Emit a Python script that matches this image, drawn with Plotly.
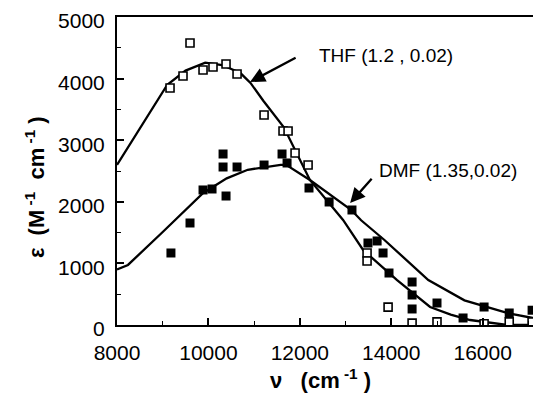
import plotly.graph_objects as go

# THF data (open squares)
thf_x = [9160, 9444, 9597, 9882, 10100, 10385, 10626, 11217, 11632, 11742, 11895, 12180,
         13470, 13470, 13930, 14455, 15000, 16030, 16580, 17080]
thf_y = [3847, 4042, 4578, 4140, 4188, 4237, 4075, 3409, 3149, 3149, 2792, 2597,
         1170, 1040, 290, 30, 50, 20, 50, 50]

# DMF data (filled squares)
dmf_x = [9180, 9597, 9882, 10079, 10320, 10320, 10385, 10626, 11217, 11610, 11720, 12200,
         12640, 13140, 13490, 13690, 13820, 13950, 14455, 14455, 14455, 15000, 15570,
         16030, 16580, 17080]
dmf_y = [1169, 1656, 2192, 2208, 2776, 2565, 2094, 2565, 2597, 2776, 2630, 2224,
         1997, 1867, 1331, 1364, 1169, 844, 698, 487, 260, 357, 114,
         292, 195, 240]

# Fitted curves
thf_fit_x = [8000, 8725, 9100, 9500, 9930, 10300, 10700, 10920, 11200, 11650, 12220,
             12945, 13383, 14127, 14849, 15300, 15724, 16534, 17200]
thf_fit_y = [2600, 3460, 3900, 4130, 4260, 4220, 4090, 3930, 3640, 3210, 2354,
             1705, 1218, 730, 292, 170, 81, 0, 0]
dmf_fit_x = [8000, 8240, 9000, 9880, 10400, 10860, 11580, 11700, 12220, 13120, 13340,
             13850, 14810, 15600, 16570, 17200]
dmf_fit_y = [900, 975, 1510, 2140, 2380, 2520, 2600, 2600, 2354, 1870, 1700,
             1380, 730, 400, 190, 100]

x_ticks = [8000, 10000, 12000, 14000, 16000]
y_ticks = [0, 1000, 2000, 3000, 4000, 5000]

font = "Liberation Sans, Arial, sans-serif"

fig = go.Figure()
fig.add_trace(go.Scatter(x=thf_fit_x, y=thf_fit_y, mode="lines",
                         line=dict(color="black", width=2.3), showlegend=False))
fig.add_trace(go.Scatter(x=dmf_fit_x, y=dmf_fit_y, mode="lines",
                         line=dict(color="black", width=2.3), showlegend=False))
fig.add_trace(go.Scatter(x=thf_x, y=thf_y, mode="markers",
                         marker=dict(symbol="square", size=8, color="white",
                                     line=dict(color="black", width=1.6)),
                         showlegend=False))
fig.add_trace(go.Scatter(x=dmf_x, y=dmf_y, mode="markers",
                         marker=dict(symbol="square", size=9, color="black",
                                     line=dict(color="black", width=0)),
                         showlegend=False))

# Annotation arrows and labels
fig.add_annotation(x=10910, y=3945, ax=11940, ay=4350, axref="x", ayref="y",
                   xref="x", yref="y", text="", showarrow=True,
                   arrowhead=2, arrowsize=1.3, arrowwidth=2.3, arrowcolor="black")
fig.add_annotation(x=12376, y=4383, xref="x", yref="y", text="THF (1.2 , 0.02)",
                   showarrow=False, xanchor="left", yanchor="middle",
                   font=dict(family=font, size=19, color="black"))
fig.add_annotation(x=13100, y=1980, ax=13600, ay=2400, axref="x", ayref="y",
                   xref="x", yref="y", text="", showarrow=True,
                   arrowhead=2, arrowsize=1.3, arrowwidth=2.3, arrowcolor="black")
fig.add_annotation(x=13690, y=2516, xref="x", yref="y", text="DMF (1.35,0.02)",
                   showarrow=False, xanchor="left", yanchor="middle",
                   font=dict(family=font, size=19, color="black"))

# Axis titles placed as annotations for exact positioning
fig.add_annotation(x=0.49, y=-0.176, xref="paper", yref="paper",
                   text="<b>ν   (cm<sup> -1</sup> )</b>", showarrow=False,
                   xanchor="center", yanchor="middle",
                   font=dict(family=font, size=22, color="black"))
fig.add_annotation(x=-0.197, y=0.448, xref="paper", yref="paper",
                   text="<b>ε  (M<sup> -1</sup>  cm<sup> -1</sup> )</b>", showarrow=False,
                   textangle=-90, xanchor="center", yanchor="middle",
                   font=dict(family=font, size=22, color="black"))

fig.update_layout(
    width=533, height=396,
    margin=dict(l=117, r=0, t=17, b=71),
    paper_bgcolor="white", plot_bgcolor="white",
    font=dict(family=font, color="black"),
    xaxis=dict(range=[8000, 17100], tickvals=x_ticks, ticktext=[str(v) for v in x_ticks],
               automargin=False,
               showline=True, linecolor="black", linewidth=2, mirror=True,
               ticks="inside", ticklen=7, tickwidth=1.5, tickcolor="black",
               minor=dict(dtick=1000, ticks="inside", ticklen=4, tickcolor="black", tickwidth=1.2),
               showgrid=False, zeroline=False, ticklabelstandoff=8,
               tickfont=dict(family=font, size=21)),
    yaxis=dict(range=[0, 5000], tickvals=y_ticks, ticktext=[str(v) for v in y_ticks],
               automargin=False,
               showline=True, linecolor="black", linewidth=2,
               ticks="inside", ticklen=7, tickwidth=1.5, tickcolor="black",
               minor=dict(dtick=500, ticks="inside", ticklen=4, tickcolor="black", tickwidth=1.2),
               showgrid=False, zeroline=False, ticklabelstandoff=6, ticklabelshift=4,
               tickfont=dict(family=font, size=21)),
)

fig.write_html("out.html", config={"displayModeBar": False},
               post_script="document.body.style.margin='0';")
